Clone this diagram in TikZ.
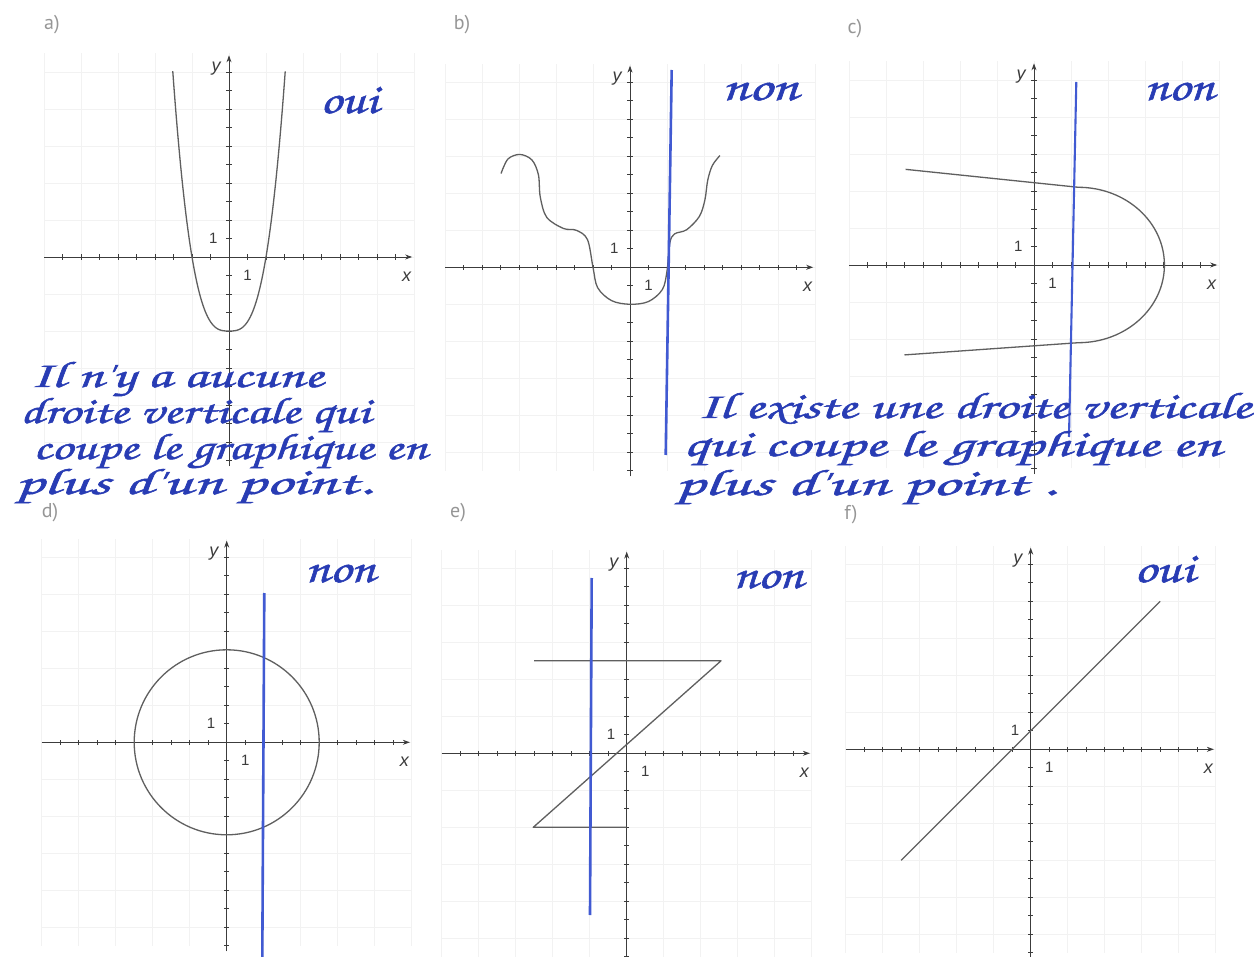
\documentclass[tikz,border=0pt]{standalone}
\usepackage{fontspec}
\setmainfont{Liberation Sans}
\newfontfamily\labfont{PT Sans}
\newfontfamily\handfont[FakeBold=1.2]{TeX Gyre Chorus}
\usetikzlibrary{arrows.meta}
\definecolor{inkblue}{RGB}{40,60,180}
\definecolor{penblue}{RGB}{65,90,210}
\definecolor{axiscol}{RGB}{60,60,60}
\definecolor{curvecol}{RGB}{95,95,95}
\definecolor{gridcol}{RGB}{242,242,242}
\definecolor{labcol}{RGB}{150,150,150}
\tikzset{
 axisline/.style={axiscol, line width=0.9pt, -{Stealth[length=7pt,width=5pt]}},
 tickline/.style={axiscol, line width=0.9pt},
 gridline/.style={gridcol, line width=0.7pt},
 curveline/.style={curvecol, line width=1.3pt, line join=round},
 bluestroke/.style={penblue, line width=2.6pt},
 axlabel/.style={axiscol, font=\fontsize{18}{18}\selectfont\itshape, inner sep=0},
 numlabel/.style={axiscol, font=\fontsize{15}{15}\selectfont, inner sep=0},
 panellabel/.style={labcol, font=\labfont\fontsize{20}{20}\selectfont, inner sep=0},
 handtext/.style={inkblue, inner sep=0, anchor=base west},
}
% name, x, baseline y, width, font size, text
\newcommand\hw[6]{\node[handtext] (#1) at (#2,-#3)
  {\resizebox{#4pt}{\height}{\handfont\fontsize{#5}{#5}\selectfont #6}};}
\newcommand\drawaxes[1]{%
  \draw[gridline] (-10,-11) grid[step=2] (10,11);
  \draw[axisline] (-10,0) -- (9.9,0);
  \draw[axisline] (0,-11.3) -- (0,10.9);
  \foreach \i in {-9,...,-1,1,2,...,9} \draw[tickline] (\i,-0.14) -- (\i,0.14);
  \foreach \j in {-11,...,-1,1,2,...,10} \draw[tickline] (-0.14,\j) -- (0.14,\j);
  \node[axlabel] (#1y) at (-0.7,10.2) {y};
  \node[numlabel] (#1one) at (-0.85,1.0) {1};
  \node[numlabel] (#1onex) at (1.0,-1.0) {1};
  \node[axlabel] (#1x) at (9.6,-1.05) {x};
}
\begin{document}
\begin{tikzpicture}[x=1pt,y=1pt]
\useasboundingbox[fill=white] (0,0) rectangle (1254,-957);

% panel labels
\node[panellabel] (la) at (52,-25) {a)};
\node[panellabel] (lb) at (462,-25) {b)};
\node[panellabel] (lc) at (855,-29) {c)};
\node[panellabel] (ld) at (50,-513) {d)};
\node[panellabel] (le) at (458,-513) {e)};
\node[panellabel] (lf) at (851,-515) {f)};

% a
\begin{scope}[shift={(229pt,-257pt)}, x=18.5pt, y=18.5pt]
  \drawaxes{a}
  \draw[curveline] plot[domain=-3.04:3.04, samples=120] (\x,{0.5*abs(\x)^3-4});
\end{scope}

% b
\begin{scope}[shift={(630pt,-267.3pt)}, x=18.5pt, y=18.5pt]
  \drawaxes{b}
  \draw[curveline] plot[smooth, tension=0.55] coordinates {
    (-6.97,5.07) (-6.6,5.85) (-5.95,6.1) (-5.3,5.8) (-4.95,5.0) (-4.85,3.8)
    (-4.5,2.7) (-3.6,2.1) (-2.9,2.0) (-2.3,1.5) (-2.0,0) (-1.75,-1.1)
    (-1.0,-1.8) (0,-2) (1.0,-1.85) (1.75,-1.2) (2.0,-0.2) (2.15,1.3)
    (2.4,1.8) (3.06,2.03) (3.75,2.75) (4.05,3.65) (4.2,4.7) (4.45,5.5) (4.86,6.04)};
\end{scope}

% c
\begin{scope}[shift={(1034pt,-265pt)}, x=18.5pt, y=18.5pt]
  \drawaxes{c}
  \draw[curveline] (-6.94,5.17) -- (2.4,4.2)
     arc[start angle=90, end angle=-90, x radius=4.65, y radius=4.2] -- (-7,-4.86);
\end{scope}

% d
\begin{scope}[shift={(226.7pt,-742.3pt)}, x=18.5pt, y=18.5pt]
  \drawaxes{d}
  \draw[curveline] (0,0) circle[radius=5];
\end{scope}

% e
\begin{scope}[shift={(626.7pt,-753.3pt)}, x=18.5pt, y=18.5pt]
  \drawaxes{e}
  \draw[curveline] (-5,5) -- (5.1,5) -- (-5.05,-4) -- (0,-4);
\end{scope}

% f
\begin{scope}[shift={(1030.7pt,-749.3pt)}, x=18.5pt, y=18.5pt]
  \drawaxes{f}
  \draw[curveline] (-7,-6) -- (7,8);
\end{scope}

% blue vertical lines
\coordinate (bt) at (671.7,-70);   \coordinate (bb) at (665.7,-455);
\coordinate (ct) at (1076.3,-82);  \coordinate (cb) at (1069,-437);
\coordinate (dt) at (264.3,-593);  \coordinate (db) at (262.3,-957);
\coordinate (et) at (591.7,-578);  \coordinate (eb) at (590,-915);
\draw[bluestroke] (bt) -- (bb);
\draw[bluestroke, line width=2.1pt] (ct) -- (cb);
\draw[bluestroke] (dt) -- (db);
\draw[bluestroke] (et) -- (eb);

% handwritten answers
\hw{ansa}{320}{113}{58}{42}{oui}
\hw{ansb}{722}{100}{76}{42}{non}
\hw{ansc}{1144}{100}{70}{42}{non}
\hw{ansd}{305}{582}{70}{42}{non}
\hw{anse}{733}{588}{70}{42}{non}
\hw{ansf}{1134}{582}{60}{42}{oui}

% handwritten explanations
\hw{la1}{30}{387}{293}{37}{Il n'y a aucune}
\hw{la2}{20}{423}{350}{37}{droite verticale qui}
\hw{la3}{33}{459}{394}{37}{coupe le graphique en}
\hw{la4}{15}{494}{357}{37}{plus d'un point.}
\hw{rb1}{697}{418}{554}{37}{Il existe une droite verticale}
\hw{rb2}{683}{456}{538}{37}{qui coupe le graphique en}
\hw{rb3}{675}{495}{381}{37}{plus d'un point .}
\end{tikzpicture}
\end{document}
